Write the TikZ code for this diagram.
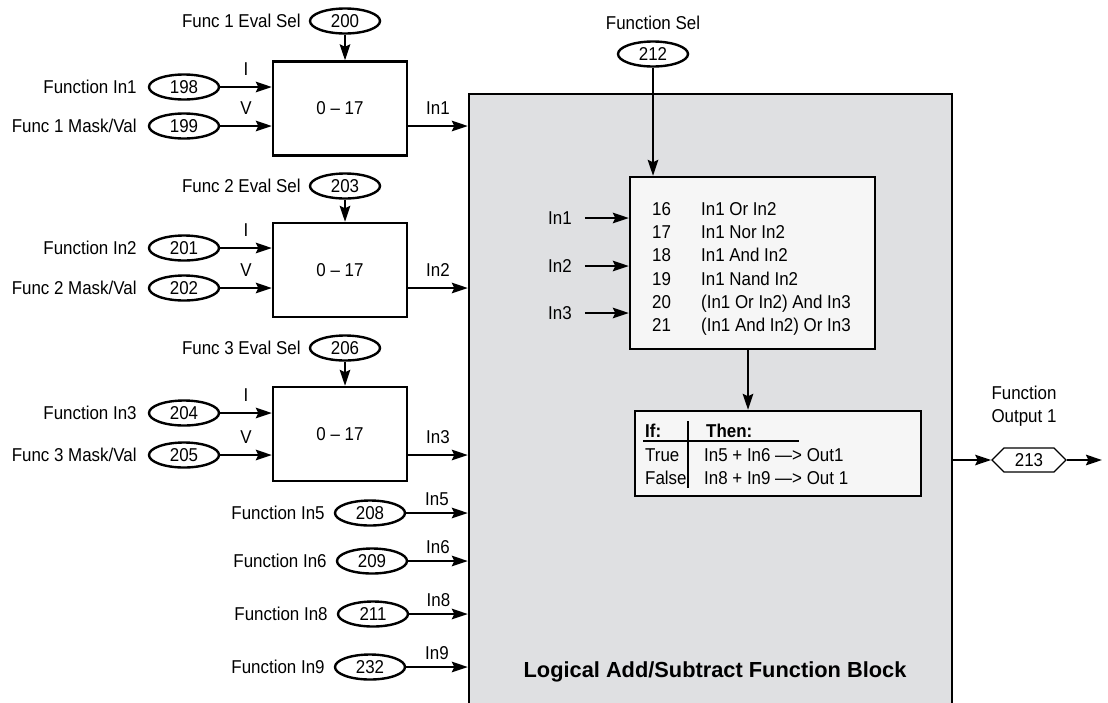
\documentclass[tikz,border=0pt]{standalone}
\usepackage{fontspec}
\setmainfont{Liberation Sans}
\newfontfamily\narrowsans[FakeStretch=0.91]{Liberation Sans}
\usetikzlibrary{arrows.meta, positioning, shapes.geometric, shapes.symbols}
\definecolor{blockgray}{HTML}{DFE0E2}
\definecolor{panelwhite}{HTML}{F6F6F6}

\begin{document}
\begin{tikzpicture}[x=1pt,y=-1pt,
	font=\narrowsans\fontsize{18.6}{23.3}\selectfont,
	par/.style={ellipse, draw, line width=2.4pt, fill=white, minimum width=70pt, minimum height=25pt, inner sep=0pt},
	fblk/.style={draw, line width=2.4pt, fill=white, minimum width=134pt, minimum height=94pt},
	panel/.style={draw, line width=2.4pt, fill=panelwhite},
	txt/.style={inner sep=0pt},
	arr/.style={line width=2.2pt, -{Stealth[length=16pt,width=10.5pt,inset=2.5pt]}}]
						\useasboundingbox (0,0) rectangle (1108,702);
						\clip (0,0) rectangle (1108,702);
						
						\node[draw, line width=2.4pt, fill=blockgray, minimum width=483pt, minimum height=626pt] (lafb) at (710.5,407) {};
						\node[font=\rmfamily\bfseries\fontsize{21.8}{26}\selectfont] (title) at (715,672) {Logical Add/Subtract Function Block};
						
						\node[par] (sel1) at (345,21) {200};
						\node[txt, left=8pt of sel1] (lsel1) {Func 1 Eval Sel};
						\node[fblk] (fb1) at (340,108.5) {0 – 17};
						\node[par] (in1) at (184,87) {198};
						\node[txt, left=11pt of in1] (lin1) {Function In1};
						\node[par] (mask1) at (184,126) {199};
						\node[txt, left=11pt of mask1] (lmask1) {Func 1 Mask/Val};
						\draw[arr] (sel1.south) -- (sel1.south |- fb1.north);
						\draw[arr] (in1.east) -- (in1 -| fb1.west) node[midway, above=7pt] (li1) {I};
						\draw[arr] (mask1.east) -- (mask1 -| fb1.west) node[midway, above=7pt] (lv1) {V};
						\draw[arr] (mask1 -| fb1.east) -- (mask1 -| lafb.west) node[midway, above=7pt] (lout1) {In1};
						
						\node[par] (sel2) at (345,186) {203};
						\node[txt, left=8pt of sel2] (lsel2) {Func 2 Eval Sel};
						\node[fblk] (fb2) at (340,270) {0 – 17};
						\node[par] (in2) at (184,248) {201};
						\node[txt, left=11pt of in2] (lin2) {Function In2};
						\node[par] (mask2) at (184,288) {202};
						\node[txt, left=11pt of mask2] (lmask2) {Func 2 Mask/Val};
						\draw[arr] (sel2.south) -- (sel2.south |- fb2.north);
						\draw[arr] (in2.east) -- (in2 -| fb2.west) node[midway, above=7pt] (li2) {I};
						\draw[arr] (mask2.east) -- (mask2 -| fb2.west) node[midway, above=7pt] (lv2) {V};
						\draw[arr] (mask2 -| fb2.east) -- (mask2 -| lafb.west) node[midway, above=7pt] (lout2) {In2};
						
						\node[par] (sel3) at (345,348) {206};
						\node[txt, left=8pt of sel3] (lsel3) {Func 3 Eval Sel};
						\node[fblk] (fb3) at (340,434) {0 – 17};
						\node[par] (in3) at (184,413) {204};
						\node[txt, left=11pt of in3] (lin3) {Function In3};
						\node[par] (mask3) at (184,455) {205};
						\node[txt, left=11pt of mask3] (lmask3) {Func 3 Mask/Val};
						\draw[arr] (sel3.south) -- (sel3.south |- fb3.north);
						\draw[arr] (in3.east) -- (in3 -| fb3.west) node[midway, above=7pt] (li3) {I};
						\draw[arr] (mask3.east) -- (mask3 -| fb3.west) node[midway, above=7pt] (lv3) {V};
						\draw[arr] (mask3 -| fb3.east) -- (mask3 -| lafb.west) node[midway, above=7pt] (lout3) {In3};
						
						\node[par] (p208) at (370,513) {208};
						\node[txt, left=9pt of p208] (lp208) {Function In5};
						\draw[arr] (p208.east) -- (p208 -| lafb.west) node[midway, above=3pt] (lin5) {In5};
						\node[par] (p209) at (372,561) {209};
						\node[txt, left=9pt of p209] (lp209) {Function In6};
						\draw[arr] (p209.east) -- (p209 -| lafb.west) node[midway, above=3pt] (lin6) {In6};
						\node[par] (p211) at (373,614) {211};
						\node[txt, left=9pt of p211] (lp211) {Function In8};
						\draw[arr] (p211.east) -- (p211 -| lafb.west) node[midway, above=3pt] (lin8) {In8};
						\node[par] (p232) at (370,667) {232};
						\node[txt, left=9pt of p232] (lp232) {Function In9};
						\draw[arr] (p232.east) -- (p232 -| lafb.west) node[midway, above=3pt] (lin9) {In9};
						
						\node (lfsel) at (653,23) {Function Sel};
						\node[par] (p212) at (653,54) {212};
						\node[panel, minimum width=245pt, minimum height=172pt] (logic) at (752.5,263) {};
						\draw[arr] (p212.south) -- (p212.south |- logic.north);
						\node[txt, anchor=north west, align=left] (rows) at (652,202) {\makebox[49pt][l]{16}In1 Or In2\\
							\makebox[49pt][l]{17}In1 Nor In2\\
							\makebox[49pt][l]{18}In1 And In2\\
							\makebox[49pt][l]{19}In1 Nand In2\\
							\makebox[49pt][l]{20}(In1 Or In2) And In3\\
							\makebox[49pt][l]{21}(In1 And In2) Or In3};
						
						\node[txt] (sin1) at (560,218) {In1};
						\node[txt] (sin2) at (560,266) {In2};
						\node[txt] (sin3) at (560,313) {In3};
						\draw[arr] ([xshift=13pt]sin1.east) -- (sin1.east -| logic.west);
						\draw[arr] ([xshift=13pt]sin2.east) -- (sin2.east -| logic.west);
						\draw[arr] ([xshift=13pt]sin3.east) -- (sin3.east -| logic.west);
						
						\node[panel, minimum width=286pt, minimum height=85pt] (tbl) at (778,453.5) {};
						\draw[arr] ([xshift=-4.5pt]logic.south) -- ([xshift=-4.5pt]logic.south |- tbl.north);
						\node[txt, anchor=west, font=\narrowsans\bfseries\fontsize{18.6}{23.3}\selectfont] (tif) at (645,431) {If:};
						\node[txt, anchor=west, font=\narrowsans\bfseries\fontsize{18.6}{23.3}\selectfont] (tthen) at (706,431) {Then:};
						\node[txt, anchor=west] (ttrue) at (645,455) {True};
						\node[txt, anchor=west] (tfalse) at (645,478) {False};
						\node[txt, anchor=west] (rtrue) at (704,455) {In5 + In6 —> Out1};
						\node[txt, anchor=west] (rfalse) at (704,478) {In8 + In9 —> Out 1};
						\draw[line width=1.2pt] (643,441) -- (799,441);
						\draw[line width=1.2pt] (688,421) -- (688,488);
						
						\node[signal, signal to=east and west, draw, line width=1.2pt, fill=white, minimum width=74pt, minimum height=24pt, inner sep=0pt] (p213) at (1029,460) {213};
						\node[align=center] (lfout) at (1024,406) {Function\\Output 1};
						\coordinate (fout) at (1102,460);
						\draw[arr] (p213 -| lafb.east) -- (p213.west);
						\draw[arr] (p213.east) -- (fout);
					\end{tikzpicture}
\end{document}
